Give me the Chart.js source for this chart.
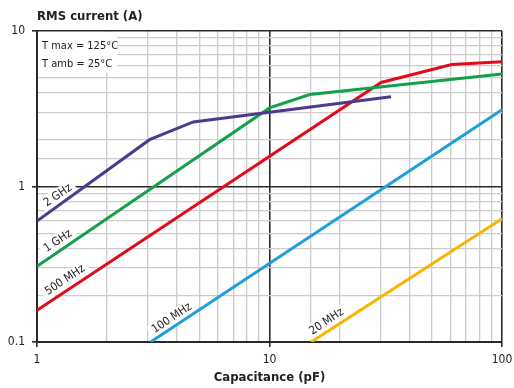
<!DOCTYPE html>
<html>
<head>
<meta charset="utf-8">
<script src="https://cdn.jsdelivr.net/npm/chart.js@4/dist/chart.umd.min.js"></script>
<style>
  html, body { margin: 0; padding: 0; background: #fff; }
  #wrap { width: 514px; height: 388px; position: relative; }
</style>
</head>
<body>
<div id="wrap"><canvas id="chart"></canvas></div>
<script>
// values (capacitance in pF, current in A)
const ghz2X = [1, 3.05, 4.7, 33.3]
const ghz2Y = [0.6, 2.0, 2.6, 3.78]
const ghz1X = [1, 10, 14.9, 100]
const ghz1Y = [0.307, 3.2, 3.9, 5.3]
const mhz500X = [1, 30.2, 60.8, 100]
const mhz500Y = [0.16, 4.67, 6.08, 6.35]
const mhz100X = [3.08, 100]
const mhz100Y = [0.1, 3.12]
const mhz20X = [15.1, 100]
const mhz20Y = [0.1, 0.62]

const seriesNames = ['2 GHz', '1 GHz', '500 MHz', '100 MHz', '20 MHz']
const seriesColors = ['#4b3b8f', '#14a04b', '#e30a1b', '#1e9fdb', '#f8b400']

// where the curve labels sit (data coordinates)
const labelX = [1.23, 1.23, 1.32, 3.8, 17.6]
const labelY = [0.875, 0.446, 0.25, 0.142, 0.135]

const xTickLabels = [1, 10, 100]
const yTickLabels = [0.1, 1, 10]
const notes = ['T max = 125°C', 'T amb = 25°C']

const FONT = "'Liberation Sans Narrow', 'DejaVu Sans Condensed', sans-serif"
Chart.defaults.font.family = FONT
Chart.defaults.color = '#222'

const toPoints = (xs, ys) => xs.map((x, i) => ({ x: x, y: ys[i] }))
const allX = [ghz2X, ghz1X, mhz500X, mhz100X, mhz20X]
const allY = [ghz2Y, ghz1Y, mhz500Y, mhz100Y, mhz20Y]

const isDecade = v => {
    const l = Math.log10(v)
    return Math.abs(l - Math.round(l)) < 1e-6
}
const isLabel = (v, list) => list.some(t => Math.abs(v - t) / t < 1e-6)

const decor = {
    id: 'decor',
    beforeDatasetsDraw(chart) {
        const { ctx, chartArea: a, scales: { x, y } } = chart
        ctx.save()
        // note box, top-left
        ctx.fillStyle = '#fff'
        ctx.fillRect(a.left + 1, a.top + 1, 79, 41)
        ctx.fillStyle = '#222'
        ctx.font = '11px ' + FONT
        ctx.textBaseline = 'middle'
        ctx.textAlign = 'left'
        notes.forEach((t, i) => ctx.fillText(t, a.left + 5, a.top + 15 + i * 18))

        // curve labels
        const ang = -Math.atan2(y.getPixelForValue(1) - y.getPixelForValue(10),
                                x.getPixelForValue(10) - x.getPixelForValue(1))
        ctx.font = '11.5px ' + FONT
        ctx.textAlign = 'center'
        seriesNames.forEach((name, i) => {
            const px = x.getPixelForValue(labelX[i])
            const py = y.getPixelForValue(labelY[i])
            ctx.save()
            ctx.translate(px, py)
            ctx.rotate(ang)
            const w = ctx.measureText(name).width
            ctx.fillStyle = '#fff'
            ctx.fillRect(-w / 2 - 4, -7, w + 8, 14)
            ctx.fillStyle = '#222'
            ctx.fillText(name, 0, 0)
            ctx.restore()
        })
        ctx.restore()
    },
    afterDraw(chart) {
        const { ctx, chartArea: a } = chart
        ctx.save()
        ctx.fillStyle = '#222'
        ctx.font = 'bold 13px ' + FONT
        ctx.textAlign = 'left'
        ctx.textBaseline = 'alphabetic'
        ctx.fillText('RMS current (A)', a.left, 20)
        ctx.restore()
    }
}

const gridColor = c => isDecade(c.tick.value) ? '#2a2a2a' : '#cccccc'
const gridWidth = c => isDecade(c.tick.value) ? 1.6 : 1.3

new Chart(document.getElementById('chart'), {
    type: 'line',
    data: {
        datasets: seriesNames.map((name, i) => ({
            label: name,
            data: toPoints(allX[i], allY[i]),
            borderColor: seriesColors[i],
            borderWidth: 3,
            pointRadius: 0,
            fill: false,
            tension: 0
        }))
    },
    options: {
        responsive: true,
        maintainAspectRatio: false,
        animation: false,
        layout: { padding: { left: 0, right: 12, top: 31, bottom: 0 } },
        plugins: { legend: { display: false }, tooltip: { enabled: false } },
        scales: {
            x: {
                type: 'logarithmic',
                min: 1, max: 100,
                border: { display: true, color: '#2a2a2a', width: 2 },
                grid: {
                    color: gridColor,
                    lineWidth: gridWidth,
                    tickLength: 5,
                    tickColor: c => isLabel(c.tick.value, xTickLabels) ? '#2a2a2a' : 'rgba(0,0,0,0)',
                    tickWidth: 1.6
                },
                ticks: {
                    autoSkip: false,
                    maxRotation: 0,
                    padding: 6,
                    font: { size: 12 },
                    callback: v => isLabel(v, xTickLabels) ? String(Number(v.toPrecision(3))) : ''
                },
                title: {
                    display: true,
                    text: 'Capacitance (pF)',
                    font: { size: 13, weight: 'bold' },
                    padding: { top: 0, bottom: 3 }
                },
                afterFit: s => { s.height = 46; s.paddingLeft = 0; s.paddingRight = 0 }
            },
            y: {
                type: 'logarithmic',
                min: 0.1, max: 10,
                border: { display: true, color: '#2a2a2a', width: 2 },
                grid: {
                    color: gridColor,
                    lineWidth: gridWidth,
                    tickLength: 5,
                    tickColor: c => isLabel(c.tick.value, yTickLabels) ? '#2a2a2a' : 'rgba(0,0,0,0)',
                    tickWidth: 1.6
                },
                ticks: {
                    autoSkip: false,
                    padding: 7,
                    font: { size: 12 },
                    callback: v => isLabel(v, yTickLabels) ? String(Number(v.toPrecision(3))) : ''
                },
                afterFit: s => { s.width = 37; s.paddingTop = 0; s.paddingBottom = 0 }
            }
        }
    },
    plugins: [decor]
})
</script>
</body>
</html>
